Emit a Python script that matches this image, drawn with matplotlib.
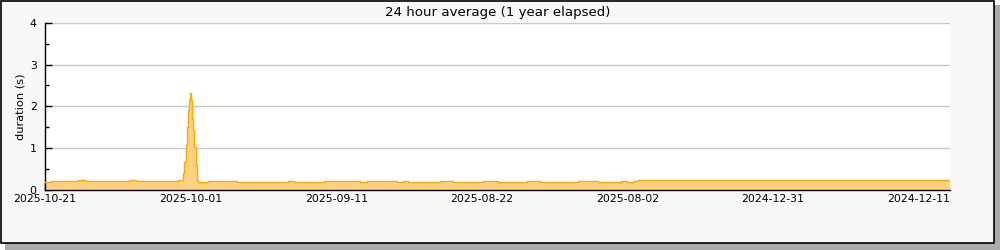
import matplotlib
matplotlib.use("Agg")
import matplotlib.pyplot as plt
from matplotlib.patches import Rectangle
from matplotlib.ticker import MultipleLocator

# step data: start of each step (days before latest sample) and its value (s)
step_start = [0, 0.82, 4.49, 5.49, 11.54, 12.5, 18.31, 18.91, 19.13, 19.33,
              19.51, 19.68, 19.82, 19.92, 20.05, 20.19, 20.37, 20.51, 20.70,
              20.92, 21.06, 22.35, 26.33, 33.38, 34.2, 38.32, 43.27, 44.23,
              48.35, 49.18, 49.86, 54.26, 56.04, 60.16, 62.23, 66.21, 68.0,
              73.21, 75.96, 79.12, 79.95, 80.77, 81.46]
duration = [0.17, 0.20, 0.23, 0.20, 0.23, 0.20, 0.22, 0.39, 0.67, 1.08,
            1.49, 1.90, 2.14, 2.33, 2.14, 1.70, 1.42, 1.02, 0.58,
            0.22, 0.17, 0.20, 0.18, 0.20, 0.185, 0.20, 0.17, 0.20,
            0.17, 0.20, 0.18, 0.20, 0.18, 0.20, 0.18, 0.20, 0.18,
            0.20, 0.18, 0.20, 0.17, 0.20, 0.23]
x_end = 124.3

tick_pos = [0, 20, 40, 60, 80, 100, 120]
tick_labels = ["2025-10-21", "2025-10-01", "2025-09-11", "2025-08-22",
               "2025-08-02", "2024-12-31", "2024-12-11"]

plt.rcParams["font.family"] = "DejaVu Sans"

fig = plt.figure(figsize=(10, 2.5), dpi=100)
fig.patch.set_facecolor("white")

# framed panel with drop shadow
fig.patches.append(Rectangle((0.005, 0.0), 0.995, 0.98, transform=fig.transFigure,
                             facecolor="#ababab", edgecolor="none", zorder=-3))
fig.patches.append(Rectangle((0.0005, 0.028), 0.9935, 0.97, transform=fig.transFigure,
                             facecolor="#f8f8f8", edgecolor="black", lw=1.2, zorder=-2))

ax = fig.add_axes([0.045, 0.242, 0.905, 0.666])
ax.set_facecolor("white")

xs = step_start + [x_end]
ys = duration + [duration[-1]]
ax.fill_between(xs, ys, step="post", color="#ffd280", lw=0, zorder=2)
ax.step(xs, ys, where="post", color="#ffaa00", lw=1, zorder=3)

ax.set_xlim(0, x_end)
ax.set_ylim(0, 4)
ax.set_xticks(tick_pos)
ax.set_xticklabels(tick_labels)
ax.xaxis.set_minor_locator(MultipleLocator(10))
ax.yaxis.set_major_locator(MultipleLocator(1))
ax.yaxis.set_minor_locator(MultipleLocator(0.5))
ax.tick_params(which="major", direction="in", length=5, width=1, labelsize=7.8, pad=3)
ax.tick_params(axis="y", which="major", pad=6)
ax.tick_params(which="minor", direction="in", length=3, width=1)
ax.tick_params(axis="x", which="minor", length=5)

ax.grid(axis="y", color="#c8c8c8", lw=1)
ax.set_axisbelow(True)
for s in ("top", "right"):
    ax.spines[s].set_visible(False)
for s in ("left", "bottom"):
    ax.spines[s].set_linewidth(1)

ax.set_ylabel("duration (s)", fontsize=8.2, labelpad=3)
ax.set_title("24 hour average (1 year elapsed)", fontsize=9.6, pad=5)

fig.savefig("out.png", dpi=100)
